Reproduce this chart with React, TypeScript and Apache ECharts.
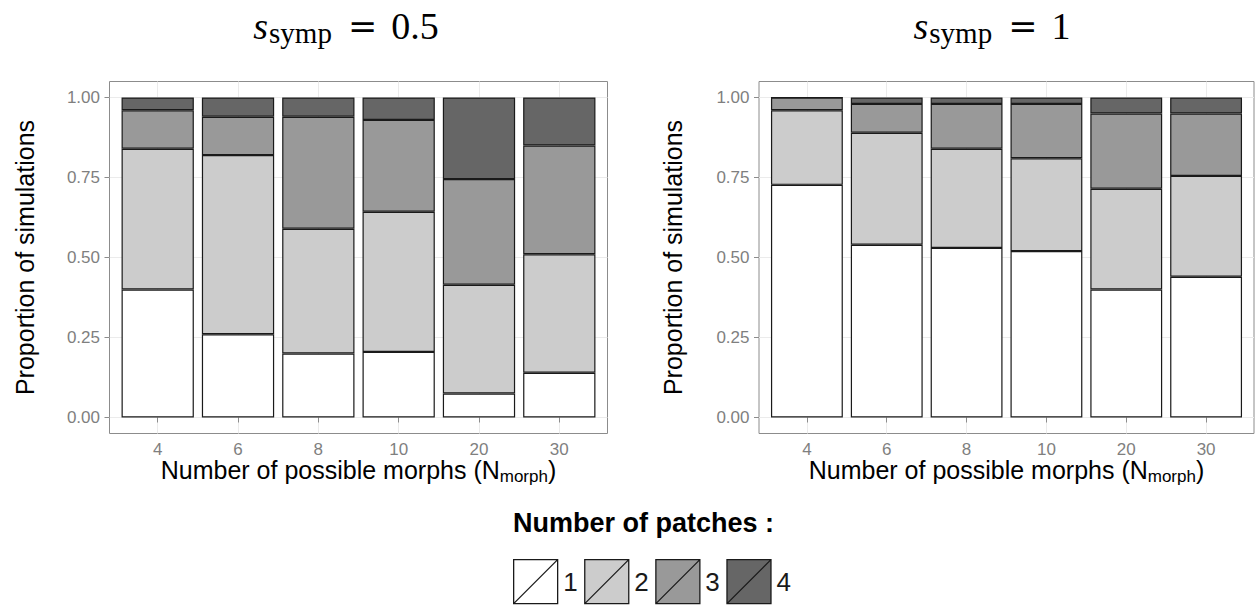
import React, { useEffect, useRef } from 'react';
import * as echarts from 'echarts';

// Number of possible morphs (x categories)
const categories = ['4', '6', '8', '10', '20', '30'];
const patchLevels = ['1', '2', '3', '4'];
const fillColours = ['#ffffff', '#cccccc', '#999999', '#666666'];
const yTicks = [0, 0.25, 0.5, 0.75, 1];
const xPositions = [1, 2, 3, 4, 5, 6];

// Proportion of simulations ending with 1..4 patches, s_symp = 0.5
const half1 = [0.4, 0.26, 0.2, 0.205, 0.075, 0.14];
const half2 = [0.44, 0.56, 0.39, 0.438, 0.34, 0.37];
const half3 = [0.12, 0.12, 0.35, 0.287, 0.33, 0.34];
const half4 = [0.04, 0.06, 0.06, 0.07, 0.255, 0.15];

// Proportion of simulations ending with 1..4 patches, s_symp = 1
const one1 = [0.727, 0.54, 0.53, 0.52, 0.4, 0.44];
const one2 = [0.233, 0.35, 0.31, 0.29, 0.315, 0.315];
const one3 = [0.04, 0.09, 0.14, 0.17, 0.235, 0.195];
const one4 = [0, 0.02, 0.02, 0.02, 0.05, 0.05];

const SANS = '"Liberation Sans", Arial, Helvetica, sans-serif';
const SERIF = '"Liberation Serif", "DejaVu Serif", serif';
const MATH_OP = '"DejaVu Serif", "Liberation Serif", serif';

const panels = [
  { stack: 'half', left: 109.5, width: 498, title: '0.5', values: [half1, half2, half3, half4] },
  { stack: 'one', left: 759, width: 495, title: '1', values: [one1, one2, one3, one4] },
];

const PANEL_TOP = 81.5;
const PANEL_HEIGHT = 352;
// discrete scale expansion: 0.6 category on each side of the outer categories
const X_MIN = 0.4;
const X_MAX = 6.6;

function buildOption(): echarts.EChartsOption {
  const grid: any[] = [];
  const xAxis: any[] = [];
  const yAxis: any[] = [];
  const series: any[] = [];

  panels.forEach((p, i) => {
    const unit = p.width / (X_MAX - X_MIN);
    // panel grid: border, gridlines, ticks and labels
    grid.push({
      left: p.left,
      top: PANEL_TOP,
      width: p.width,
      height: PANEL_HEIGHT,
      show: true,
      borderColor: '#8c8c8c',
      borderWidth: 1,
      backgroundColor: 'transparent',
    });
    // bar grid: spans the six category bands only
    grid.push({
      left: p.left + (1 - X_MIN - 0.5) * unit,
      top: PANEL_TOP,
      width: categories.length * unit,
      height: PANEL_HEIGHT,
      show: false,
    });
    const panelIdx = i * 2;
    const barIdx = i * 2 + 1;

    xAxis.push({
      gridIndex: panelIdx,
      type: 'value',
      min: X_MIN,
      max: X_MAX,
      axisLine: { show: false },
      axisTick: {
        show: true,
        length: 5,
        customValues: xPositions,
        lineStyle: { color: '#8c8c8c', width: 1 },
      },
      axisLabel: {
        customValues: xPositions,
        formatter: (v: number) => categories[Math.round(v) - 1] ?? '',
        fontSize: 17,
        color: '#7f7f7f',
        fontFamily: SANS,
        margin: 7,
      },
      splitLine: { show: true, lineStyle: { color: '#ebebeb', width: 1 } },
    });
    xAxis.push({
      gridIndex: barIdx,
      type: 'category',
      data: categories,
      show: false,
    });

    yAxis.push({
      gridIndex: panelIdx,
      type: 'value',
      min: -0.05,
      max: 1.05,
      axisLine: { show: false },
      axisTick: {
        show: true,
        length: 5,
        customValues: yTicks,
        lineStyle: { color: '#8c8c8c', width: 1 },
      },
      axisLabel: {
        customValues: yTicks,
        formatter: (v: number) => v.toFixed(2),
        fontSize: 17,
        color: '#7f7f7f',
        fontFamily: SANS,
        margin: 9.5,
      },
      splitLine: { show: true, lineStyle: { color: '#ebebeb', width: 1 } },
    });
    yAxis.push({
      gridIndex: barIdx,
      type: 'value',
      min: -0.05,
      max: 1.05,
      show: false,
      splitLine: { show: false },
    });

    p.values.forEach((vals, k) => {
      series.push({
        type: 'bar',
        name: patchLevels[k],
        xAxisIndex: barIdx,
        yAxisIndex: barIdx,
        stack: p.stack,
        barCategoryGap: '10%',
        data: vals,
        itemStyle: { color: fillColours[k], borderColor: '#1a1a1a', borderWidth: 1.2 },
        emphasis: { disabled: true },
      });
    });
  });

  const titleRich = {
    a: { fontFamily: SERIF, fontStyle: 'italic' as const, fontSize: 38, lineHeight: 42, color: '#000' },
    b: {
      fontFamily: SERIF,
      fontSize: 29,
      lineHeight: 29,
      verticalAlign: 'bottom' as const,
      padding: [22, 0, 0, 1],
      color: '#000',
    },
    e: {
      fontFamily: MATH_OP,
      fontSize: 35,
      lineHeight: 42,
      padding: [0, 14, 0, 16],
      color: '#000',
    },
    c: { fontFamily: SERIF, fontSize: 38, lineHeight: 42, color: '#000' },
  };

  const xTitleRich = {
    m: { fontFamily: SANS, fontSize: 25, lineHeight: 29, color: '#000' },
    s: {
      fontFamily: SANS,
      fontSize: 17,
      lineHeight: 17,
      verticalAlign: 'bottom' as const,
      padding: [12, 0, 0, 0],
      color: '#000',
    },
  };

  const titleCentres = [346, 992];
  const yTitleX = [25, 673];

  const graphic: any[] = [];
  panels.forEach((p, i) => {
    graphic.push({
      type: 'text',
      x: titleCentres[i],
      y: 26,
      style: {
        text: `{a|s}{b|symp}{e|=}{c|${p.title}}`,
        rich: titleRich,
        align: 'center',
        verticalAlign: 'middle',
      },
    });
    graphic.push({
      type: 'text',
      x: yTitleX[i],
      y: PANEL_TOP + PANEL_HEIGHT / 2,
      rotation: Math.PI / 2,
      style: {
        text: 'Proportion of simulations',
        fontFamily: SANS,
        fontSize: 25,
        fill: '#000',
        align: 'center',
        verticalAlign: 'middle',
      },
    });
    graphic.push({
      type: 'text',
      x: p.left + p.width / 2,
      y: 470,
      style: {
        text: '{m|Number of possible morphs (N}{s|morph}{m|)}',
        rich: xTitleRich,
        align: 'center',
        verticalAlign: 'middle',
      },
    });
  });
  graphic.push({
    type: 'text',
    x: 513,
    y: 522.5,
    style: {
      text: 'Number of patches :',
      fontFamily: SANS,
      fontWeight: 'bold',
      fontSize: 27,
      fill: '#000',
      align: 'left',
      verticalAlign: 'middle',
    },
  });

  return {
    animation: false,
    backgroundColor: '#ffffff',
    textStyle: { fontFamily: SANS },
    grid,
    xAxis,
    yAxis,
    series,
    legend: {
      data: patchLevels,
      left: 513,
      top: 559,
      padding: 0,
      itemWidth: 45,
      itemHeight: 44,
      itemGap: 6.5,
      icon: 'path://M0,0L44,0L44,44L0,44Z M0,44L44,0',
      itemStyle: { borderColor: '#1a1a1a', borderWidth: 1.3 },
      textStyle: { fontSize: 26, color: '#1a1a1a', fontFamily: SANS },
      selectedMode: false,
    },
    graphic,
  };
}

export default function App() {
  const ref = useRef<HTMLDivElement>(null);

  useEffect(() => {
    document.body.style.margin = '0';
    document.body.style.overflow = 'hidden';
    if (!ref.current) return;
    const chart = echarts.init(ref.current, undefined, { renderer: 'svg' });
    chart.setOption(buildOption());
    return () => chart.dispose();
  }, []);

  return <div ref={ref} style={{ width: 1257, height: 608 }} />;
}
